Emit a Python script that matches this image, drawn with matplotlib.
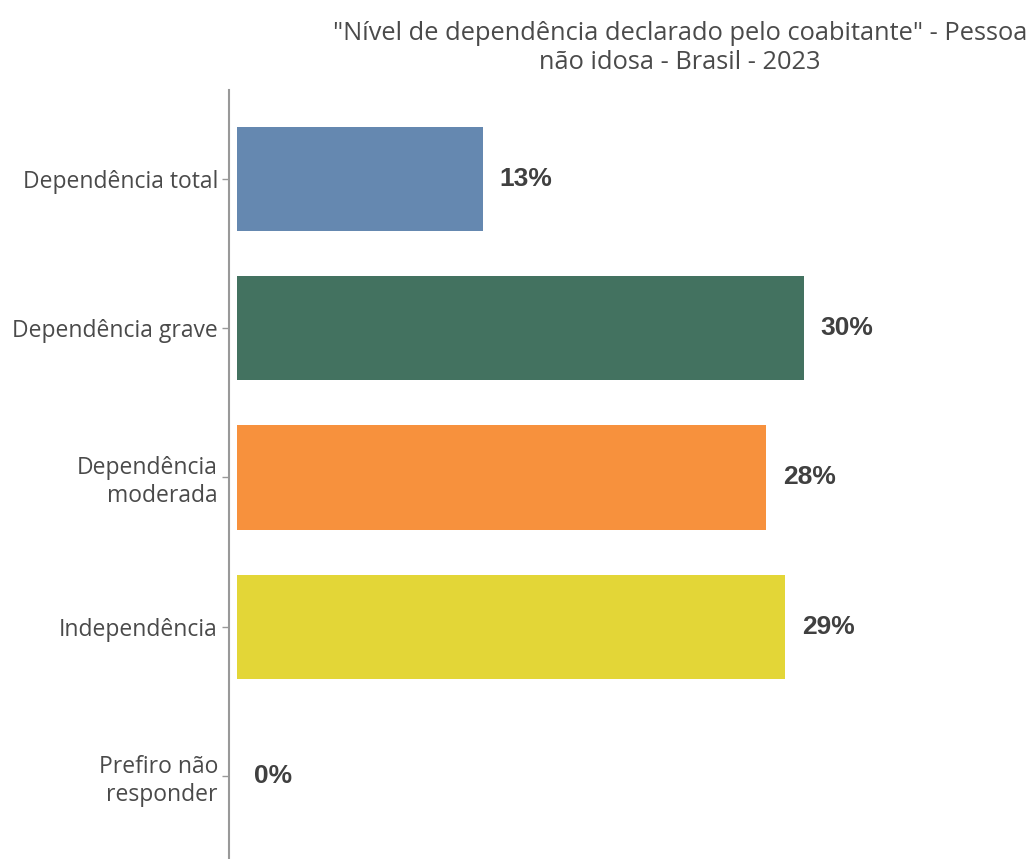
import matplotlib.pyplot as plt

# dados
categorias = ['Dependência total', 'Dependência grave', 'Dependência\nmoderada',
              'Independência', 'Prefiro não\nresponder']
valores = [13, 30, 28, 29, 0]
cores = ['#6588B0', '#437260', '#F7913D', '#E3D637', '#BBBBBB']
titulo = '"Nível de dependência declarado pelo coabitante" - Pessoa\nnão idosa - Brasil - 2023'

plt.rcParams['font.family'] = ['Open Sans', 'DejaVu Sans']

fig = plt.figure(figsize=(10.32, 8.59), dpi=100)
ax = fig.add_axes([229 / 1032, 0, 1 - 229 / 1032, (859 - 90) / 859])

pos = list(range(len(categorias)))
ax.barh(pos, valores, height=0.7, color=cores)

for y, v in zip(pos, valores):
    ax.annotate(f'{v}%', (v, y), xytext=(12, 0), textcoords='offset points',
                ha='left', va='center', fontsize=19, fontweight='bold',
                color='#404040', family='Liberation Sans')

ax.set_xlim(-0.42, 42.06)
ax.set_ylim(4.556, -0.596)
ax.set_yticks(pos)
ax.set_yticklabels(categorias, fontsize=16.5, color='#4a4a4a', linespacing=1.2)
ax.set_xticks([])

for s in ['top', 'right', 'bottom']:
    ax.spines[s].set_visible(False)
ax.spines['left'].set_color('#999999')
ax.spines['left'].set_linewidth(1.5)
ax.tick_params(axis='y', length=5, color='#999999', width=1, pad=3)

fig.text(680 / 1032, 1 - 48 / 859, titulo, ha='center', va='center',
         fontsize=18.3, color='#4a4a4a', linespacing=1.2)

fig.savefig('out.png', dpi=100)
